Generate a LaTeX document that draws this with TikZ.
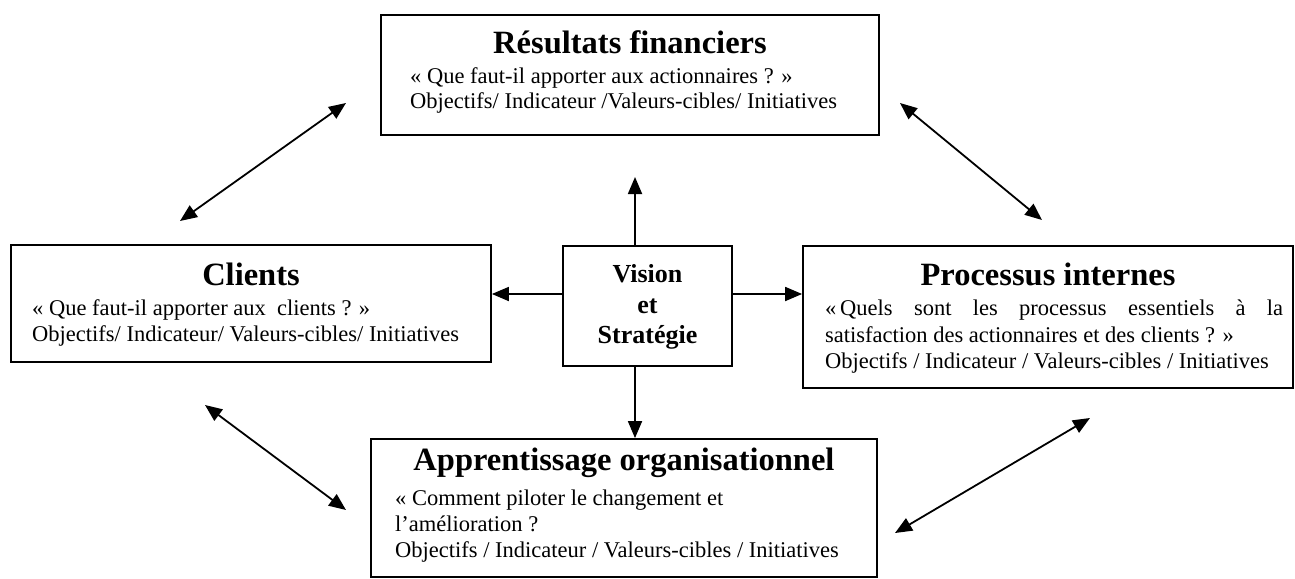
\documentclass[tikz,border=0pt]{standalone}
\usepackage{fontspec}
\setmainfont{Liberation Serif}
\usetikzlibrary{arrows.meta}
\newcommand{\bodyf}{\fontsize{22.5}{26}\selectfont}
\newcommand{\titlef}{\fontsize{32.5}{38}\selectfont\bfseries}
\newcommand{\visf}{\fontsize{26}{30}\selectfont\bfseries}
\begin{document}
\begin{tikzpicture}[x=1pt,y=-1pt,
  box/.style={draw, line width=1.8pt, inner sep=0pt, rectangle},
  ttl/.style={anchor=base, inner sep=0pt, font=\titlef},
  txt/.style={anchor=base west, inner sep=0pt, font=\bodyf},
  vtx/.style={anchor=base, inner sep=0pt, font=\visf},
  arr/.style={line width=1.8pt, -{Triangle[length=17pt,width=14pt]}},
  darr/.style={line width=1.8pt, {Triangle[length=17pt,width=14pt]}-{Triangle[length=17pt,width=14pt]}}]
\path[use as bounding box, fill=white] (0,0) rectangle (1295,578);

% boxes
\node[box, minimum width=498pt, minimum height=120pt] (fin) at (630,75) {};
\node[box, minimum width=480pt, minimum height=117pt] (cli) at (251,303.5) {};
\node[box, minimum width=169pt, minimum height=120pt] (vis) at (647.5,306) {};
\node[box, minimum width=490pt, minimum height=142pt] (pro) at (1048,317) {};
\node[box, minimum width=506pt, minimum height=138pt] (app) at (624,508) {};

% Résultats financiers
\node[ttl] (finT) at (630,53) {Résultats financiers};
\node[txt] (finA) at (410,84) {« Que faut-il apporter aux actionnaires ? »};
\node[txt] (finB) at (410,108) {Objectifs/ Indicateur /Valeurs-cibles/ Initiatives};

% Clients
\node[ttl] (cliT) at (251,285) {Clients};
\node[txt] (cliA) at (32,315) {« Que faut-il apporter aux\ \ clients ? »};
\node[txt] (cliB) at (32,341) {Objectifs/ Indicateur/ Valeurs-cibles/ Initiatives};

% Vision
\node[vtx] (visA) at (647.5,282) {Vision};
\node[vtx] (visB) at (647.5,313) {et};
\node[vtx] (visC) at (647.5,343) {Stratégie};

% Processus internes
\node[ttl] (proT) at (1048,285) {Processus internes};
\node[txt] (proA) at (825,315) {\makebox[458pt][s]{«\,Quels\hfill sont\hfill les\hfill processus\hfill essentiels\hfill à\hfill la}};
\node[txt] (proB) at (825,342) {satisfaction des actionnaires et des clients ? »};
\node[txt] (proC) at (825,368) {Objectifs / Indicateur / Valeurs-cibles / Initiatives};

% Apprentissage
\node[ttl] (appT) at (624,470) {Apprentissage organisationnel};
\node[txt] (appA) at (395,505) {« Comment piloter le changement et};
\node[txt] (appB) at (395,531) {l’amélioration ?};
\node[txt] (appC) at (395,557) {Objectifs / Indicateur / Valeurs-cibles / Initiatives};

% straight arrows from Vision
\coordinate (vx) at (635,177);
\coordinate (hy) at (0,294);
\draw[arr] (vis.north -| vx) -- (vx);
\draw[arr] (vis.south -| vx) -- (app.north -| vx);
\draw[arr] (vis.east |- hy) -- (pro.west |- hy);
\draw[arr] (vis.west |- hy) -- (cli.east |- hy);

% diagonal double arrows
\coordinate (d1a) at (180,221);
\coordinate (d1b) at (346,103);
\coordinate (d2a) at (900,103);
\coordinate (d2b) at (1042,220);
\coordinate (d3a) at (205,405);
\coordinate (d3b) at (346,510);
\coordinate (d4a) at (895,533);
\coordinate (d4b) at (1090,418);
\draw[darr] (d1a) -- (d1b);
\draw[darr] (d2a) -- (d2b);
\draw[darr] (d3a) -- (d3b);
\draw[darr] (d4a) -- (d4b);
\end{tikzpicture}
\end{document}
